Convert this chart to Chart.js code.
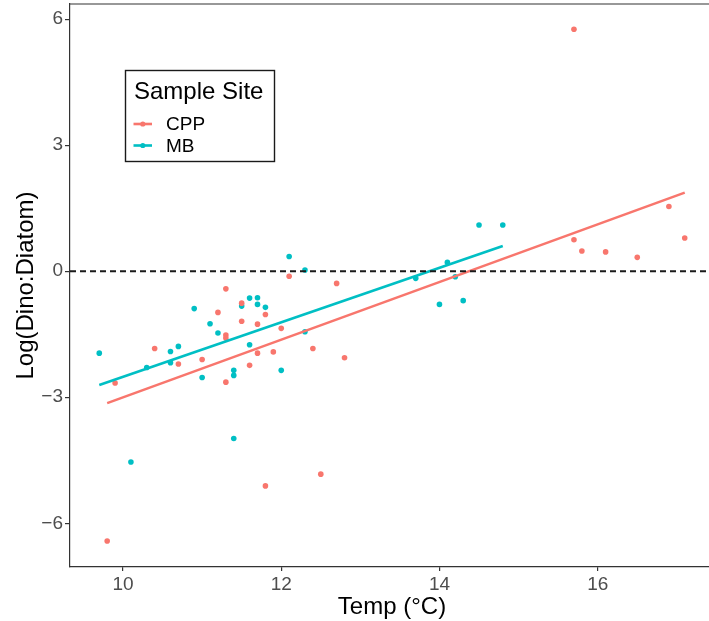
<!DOCTYPE html>
<html>
<head>
<meta charset="utf-8">
<script src="https://cdn.jsdelivr.net/npm/chart.js@4.4.0/dist/chart.umd.min.js"></script>
<style>
  html, body { margin: 0; padding: 0; background: #fff; overflow: hidden; }
</style>
</head>
<body>
<canvas id="chart" width="718" height="621"></canvas>
<script>
const sites = ['CPP', 'MB'];
const siteColors = ['#F8766D', '#00BFC4'];

const cppTemp  = [9.8, 9.9, 10.4, 10.7, 11.0, 11.2, 11.3, 11.3, 11.3, 11.3, 11.5, 11.5, 11.6, 11.7, 11.7, 11.8,
                  11.8, 11.9, 12.0, 12.1, 12.4, 12.5, 12.7, 12.8, 15.7, 15.7, 15.8, 16.1, 16.5, 16.9, 17.1];
const cppRatio = [-6.42, -2.66, -1.84, -2.21, -2.10, -0.98, -0.42, -1.52, -1.59, -2.64, -0.76, -1.19, -2.24, -1.26, -1.95, -1.03,
                  -5.11, -1.92, -1.36, -0.12, -1.84, -4.83, -0.29, -2.06, 0.75, 5.76, 0.48, 0.46, 0.33, 1.54, 0.79];

const mbTemp  = [9.7, 10.1, 10.3, 10.6, 10.6, 10.7, 10.9, 11.0, 11.1, 11.2, 11.4, 11.4, 11.4, 11.5, 11.6,
                 11.6, 11.7, 11.7, 11.8, 12.0, 12.1, 12.3, 12.3, 13.7, 14.0, 14.1, 14.2, 14.3, 14.5, 14.8];
const mbRatio = [-1.95, -4.54, -2.29, -1.91, -2.18, -1.79, -0.89, -2.53, -1.25, -1.47, -2.36, -2.48, -3.98, -0.83, -0.64,
                 -1.75, -0.63, -0.79, -0.86, -2.36, 0.35, 0.03, -1.44, -0.17, -0.79, 0.21, -0.13, -0.70, 1.10, 1.10];

// lm fit lines, read at both ends
const cppFitTemp  = [9.8, 17.1];
const cppFitRatio = [-3.14, 1.87];
const mbFitTemp   = [9.7, 14.8];
const mbFitRatio  = [-2.71, 0.60];

const xTicks = [10, 12, 14, 16];
const yTicks = [-6, -3, 0, 3, 6];
const refLine = 0;

const FONT = "'Liberation Sans', Arial, sans-serif";

function toPoints(xs, ys) {
  return xs.map((x, i) => ({ x: x, y: ys[i] }));
}

function pointSet(i, xs, ys) {
  return {
    label: sites[i],
    data: toPoints(xs, ys),
    backgroundColor: siteColors[i],
    borderWidth: 0,
    pointRadius: 2.8,
    showLine: false,
    order: 2
  };
}

function fitSet(i, xs, ys) {
  return {
    label: sites[i] + ' fit',
    data: toPoints(xs, ys),
    borderColor: siteColors[i],
    borderWidth: 2.6,
    pointRadius: 0,
    showLine: true,
    order: 1
  };
}

const frame = {
  id: 'frame',
  afterDatasetsDraw(chart) {
    const { ctx, chartArea: a, scales } = chart;
    const y0 = scales.y.getPixelForValue(refLine);
    ctx.save();
    ctx.strokeStyle = '#1a1a1a';
    ctx.lineWidth = 2;
    ctx.setLineDash([6, 4]);
    ctx.beginPath();
    ctx.moveTo(a.left, y0);
    ctx.lineTo(a.right, y0);
    ctx.stroke();
    ctx.setLineDash([]);
    ctx.strokeStyle = '#333';
    ctx.lineWidth = 1.2;
    ctx.beginPath();
    ctx.moveTo(a.left, a.top);
    ctx.lineTo(a.right, a.top);
    ctx.stroke();
    ctx.restore();
  },
  afterDraw(chart) {
    const ctx = chart.ctx;
    ctx.save();
    ctx.fillStyle = '#fff';
    ctx.fillRect(125.5, 70.5, 149, 91);
    ctx.strokeStyle = '#1a1a1a';
    ctx.lineWidth = 1.4;
    ctx.strokeRect(125.5, 70.5, 149, 91);
    ctx.fillStyle = '#000';
    ctx.textBaseline = 'alphabetic';
    ctx.font = '24px ' + FONT;
    ctx.fillText('Sample Site', 134, 99);
    ctx.font = '19px ' + FONT;
    ctx.textBaseline = 'middle';
    sites.forEach((s, i) => {
      const y = 124 + i * 21.5;
      ctx.strokeStyle = siteColors[i];
      ctx.lineWidth = 2.6;
      ctx.beginPath();
      ctx.moveTo(133.5, y);
      ctx.lineTo(152, y);
      ctx.stroke();
      ctx.fillStyle = siteColors[i];
      ctx.beginPath();
      ctx.arc(142.8, y, 2.6, 0, Math.PI * 2);
      ctx.fill();
      ctx.fillStyle = '#000';
      ctx.fillText(s, 166, y + 1);
    });
    ctx.restore();
  }
};

const ctx = document.getElementById('chart');
new Chart(ctx, {
  type: 'scatter',
  data: {
    datasets: [
      fitSet(0, cppFitTemp, cppFitRatio),
      fitSet(1, mbFitTemp, mbFitRatio),
      pointSet(0, cppTemp, cppRatio),
      pointSet(1, mbTemp, mbRatio)
    ]
  },
  options: {
    responsive: false,
    animation: false,
    devicePixelRatio: 1,
    layout: { padding: { top: 4, left: 0, right: 0, bottom: 0 } },
    plugins: { legend: { display: false }, tooltip: { enabled: false } },
    scales: {
      x: {
        type: 'linear',
        min: 9.33,
        max: 17.47,
        afterBuildTicks: s => { s.ticks = xTicks.map(v => ({ value: v })); },
        afterFit: s => { s.height = 54; s.paddingLeft = 0; s.paddingRight = 0; },
        grid: { drawOnChartArea: false, drawTicks: true, tickLength: 4, color: '#333', lineWidth: 1.2 },
        border: { color: '#333', width: 1.2 },
        ticks: { color: '#4D4D4D', font: { family: FONT, size: 19 }, padding: 2, maxRotation: 0 },
        title: { display: true, text: 'Temp (°C)', color: '#000',
                 font: { family: FONT, size: 24, lineHeight: 1.1 }, padding: { top: 0, bottom: 0 } }
      },
      y: {
        type: 'linear',
        min: -7.04,
        max: 6.36,
        afterBuildTicks: s => { s.ticks = yTicks.map(v => ({ value: v })); },
        afterFit: s => { s.width = 70; s.paddingTop = 0; s.paddingBottom = 0; },
        grid: { drawOnChartArea: false, drawTicks: true, tickLength: 5, color: '#333', lineWidth: 1.2 },
        border: { color: '#333', width: 1.2 },
        ticks: { color: '#4D4D4D', font: { family: FONT, size: 19 }, padding: 2,
                 callback: v => String(v).replace('-', '\u2212') },
        title: { display: true, text: 'Log(Dino:Diatom)', color: '#000',
                 font: { family: FONT, size: 24, lineHeight: 1.1 }, padding: { top: 12.8, bottom: 0 } }
      }
    }
  },
  plugins: [frame]
});
</script>
</body>
</html>
